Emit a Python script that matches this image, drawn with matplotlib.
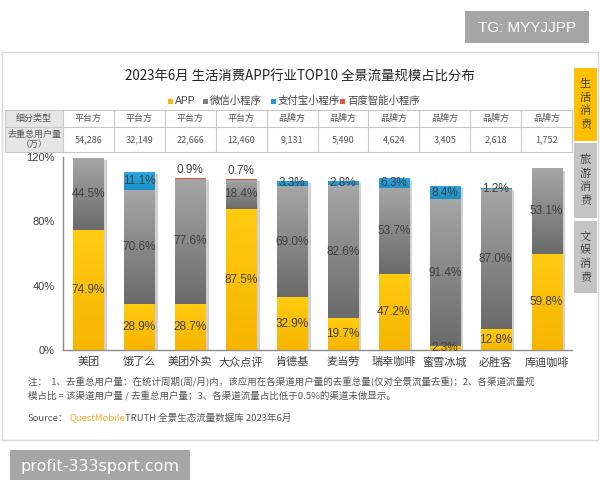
import numpy as np
import matplotlib
matplotlib.use("Agg")
import matplotlib.pyplot as plt
from matplotlib.colors import LinearSegmentedColormap
from matplotlib.patches import Rectangle
import matplotlib.patheffects as pe

plt.rcParams['font.family'] = ['Liberation Sans', 'Noto Sans CJK SC', 'DejaVu Sans']

# ---------------- data ----------------
categories = ['美团', '饿了么', '美团外卖', '大众点评', '肯德基', '麦当劳', '瑞幸咖啡', '蜜雪冰城', '必胜客', '库迪咖啡']
seg_types = ['平台方', '平台方', '平台方', '平台方', '品牌方', '品牌方', '品牌方', '品牌方', '品牌方', '品牌方']
users = ['54,286', '32,149', '22,666', '12,460', '9,131', '5,490', '4,624', '3,405', '2,618', '1,752']
app = [74.9, 28.9, 28.7, 87.5, 32.9, 19.7, 47.2, 2.3, 12.8, 59.8]
wechat = [44.5, 70.6, 77.6, 18.4, 69.0, 82.6, 53.7, 91.4, 87.0, 53.1]
alipay = [0, 11.1, 0, 0, 3.3, 2.8, 6.3, 8.4, 1.2, 0]
baidu = [0, 0, 0.9, 0.7, 0, 0, 0, 0, 0, 0]
series_names = ['APP', '微信小程序', '支付宝小程序', '百度智能小程序']
yticks = [0, 40, 80, 120]
ytick_labels = ['0%', '40%', '80%', '120%']

title = '2023年6月 生活消费APP行业TOP10 全景流量规模占比分布'
tabs = ['生活消费', '旅游消费', '文娱消费']

W, H = 600, 480
fig = plt.figure(figsize=(6, 4.8), dpi=100)
fig.patch.set_facecolor('white')

# background pixel-space axes
bg = fig.add_axes([0, 0, 1, 1], zorder=0)
bg.set_xlim(0, W)
bg.set_ylim(H, 0)
bg.axis('off')

# outer frame
bg.add_patch(Rectangle((2, 52), 596, 388, fill=False, ec='#d9d9d9', lw=1))

# TG box
bg.add_patch(Rectangle((465, 11), 124, 32, fc='#a6a6a6', ec='none'))
bg.text(527, 27.5, 'TG: MYYJJPP', color='white', fontsize=11, ha='center', va='center')

# bottom watermark box
bg.add_patch(Rectangle((10, 450), 180, 32, fc='#a6a6a6', ec='none'))
bg.text(100, 466, 'profit-333sport.com', color='white', fontsize=11.5, ha='center', va='center',
        family=['DejaVu Sans'])

# title
bg.text(300, 77, title, fontsize=9.6, color='#222222', ha='center', va='center',
        family=['Noto Sans CJK SC', 'DejaVu Sans'])

# legend
leg_colors = ['#F5B800', '#808080', '#1E9BD7', '#E05A3A']
leg_x = [168, 203, 271, 340]
for c, x, name in zip(leg_colors, leg_x, series_names):
    bg.add_patch(Rectangle((x, 98.5), 5, 5, fc=c, ec='none'))
    bg.text(x + 7, 101, name, fontsize=7.5, color='#444444', ha='left', va='center',
            family=['Liberation Sans', 'Noto Sans CJK SC'])

# table
x_left_axis = 63.0
x_right_axis = 572.0
colw = (x_right_axis - x_left_axis) / len(categories)
t_top, t_mid, t_bot = 109.5, 127, 152
bg.add_patch(Rectangle((5, t_top), x_left_axis - 5, t_bot - t_top, fc='#e6e6e6', ec='none'))
lc = '#c8c8c8'
for y in (t_top, t_mid, t_bot):
    bg.plot([5, x_right_axis], [y, y], color=lc, lw=0.8)
bg.plot([5, 5], [t_top, t_bot], color=lc, lw=0.8)
for i in range(len(categories) + 1):
    x = x_left_axis + i * colw
    bg.plot([x, x], [t_top, t_bot], color=lc, lw=0.8)
bg.text((5 + x_left_axis) / 2, (t_top + t_mid) / 2, '细分类型', fontsize=6.5, color='#555555',
        ha='center', va='center', family=['Noto Sans CJK SC'])
bg.text((5 + x_left_axis) / 2, (t_mid + t_bot) / 2, '去重总用户量\n（万）', fontsize=6.5, color='#555555',
        ha='center', va='center', linespacing=1.1, family=['Noto Sans CJK SC'])
for i, (s, u) in enumerate(zip(seg_types, users)):
    cx = x_left_axis + (i + 0.5) * colw
    bg.text(cx, (t_top + t_mid) / 2, s, fontsize=6.5, color='#555555', ha='center', va='center',
            family=['Noto Sans CJK SC'])
    bg.text(cx, (t_mid + t_bot) / 2, u, fontsize=6.5, color='#555555', ha='center', va='center',
            family=['Noto Sans CJK SC'])

# side tabs
tab_y = [(68, 141), (143, 218), (221, 293)]
tab_bg = ['#FFC000', '#c4c4c4', '#c4c4c4']
for (y0, y1), c, t in zip(tab_y, tab_bg, tabs):
    bg.add_patch(Rectangle((574, y0), 23, y1 - y0, fc=c, ec='none'))
    bg.text(585.5, (y0 + y1) / 2, '\n'.join(t), fontsize=8, color='#333333', ha='center', va='center',
            linespacing=1.15, family=['Noto Serif CJK SC', 'Noto Sans CJK SC'])

# notes
note1 = '注：  1、去重总用户量：在统计周期(周/月)内，该应用在各渠道用户量的去重总量(仅对全景流量去重)；2、各渠道流量规'
note2 = '模占比 = 该渠道用户量 / 去重总用户量；3、各渠道流量占比低于0.5%的渠道未做显示。'
nf = ['Noto Sans CJK SC', 'DejaVu Sans']
bg.text(28, 382, note1, fontsize=6.8, color='#555555', ha='left', va='center', family=nf)
bg.text(28, 396, note2, fontsize=6.8, color='#555555', ha='left', va='center', family=nf)
t1 = bg.text(28, 418, 'Source：', fontsize=6.8, color='#555555', ha='left', va='center', family=nf)
fig.canvas.draw()
r = fig.canvas.get_renderer()
bb = t1.get_window_extent(r)
x2 = bg.transData.inverted().transform((bb.x1, 0))[0] + 1
t2 = bg.text(x2, 418, 'QuestMobile', fontsize=6.8, color='#F5A623', ha='left', va='center', family=nf)
bb2 = t2.get_window_extent(r)
x3 = bg.transData.inverted().transform((bb2.x1, 0))[0]
bg.text(x3, 418, 'TRUTH 全景生态流量数据库 2023年6月', fontsize=6.8, color='#555555', ha='left', va='center',
        family=nf)

# ---------------- chart axes ----------------
y0_px, ytop_px = 350, 157
ax = fig.add_axes([x_left_axis / W, (H - y0_px) / H, (x_right_axis - x_left_axis) / W,
                   (y0_px - ytop_px) / H], zorder=1)
ax.patch.set_alpha(0)

x = np.arange(len(categories))
bw = 0.59
grads = [('#F7B400', '#FFCC10'), ('#6A6A6A', '#A6A6A6'), ('#1A90C8', '#2BA9E0'), ('#D9502F', '#E86A48')]
series = [app, wechat, alipay, baidu]
bottom = np.zeros(len(categories))
grad_img = np.linspace(0, 1, 256).reshape(-1, 1)
for vals, (c0, c1) in zip(series, grads):
    vals = np.array(vals, dtype=float)
    bars = ax.bar(x, vals, bw, bottom=bottom, color=c0, edgecolor='none', zorder=2)
    cmap = LinearSegmentedColormap.from_list('g', [c0, c1])
    for p, v in zip(bars.patches, vals):
        if v <= 0:
            continue
        p.set_path_effects([pe.SimplePatchShadow(offset=(2.5, -1.5), shadow_rgbFace='#000000', alpha=0.18),
                            pe.Normal()])
        im = ax.imshow(grad_img, cmap=cmap, origin='lower', aspect='auto', zorder=3,
                       extent=[p.get_x(), p.get_x() + p.get_width(), p.get_y(), p.get_y() + p.get_height()],
                       interpolation='bilinear')
        im.set_clip_path(p)
    for xi, b, v in zip(x, bottom, vals):
        if v <= 0:
            continue
        if v < 1:
            ax.text(xi, b + v + 1.2, f'{v:.1f}%', ha='center', va='bottom', fontsize=8.5,
                    color='#404040', zorder=5)
        else:
            ax.text(xi, b + v / 2, f'{v:.1f}%', ha='center', va='center', fontsize=8.5,
                    color='#404040', zorder=5)
    bottom = bottom + vals

ax.set_xlim(-0.5, len(categories) - 0.5)
ax.set_ylim(0, 120)
ax.set_yticks(yticks)
ax.set_yticklabels(ytick_labels)
ax.set_xticks(x)
ax.set_xticklabels(categories, family=['Noto Sans CJK SC'])
ax.tick_params(axis='both', length=0, labelsize=8, colors='#404040')
ax.tick_params(axis='x', pad=5)
ax.tick_params(axis='y', pad=6)
for s in ['top', 'right']:
    ax.spines[s].set_visible(False)
for s in ['left', 'bottom']:
    ax.spines[s].set_color('#8c8c8c')
    ax.spines[s].set_linewidth(1)

fig.savefig('out.png', dpi=100, facecolor='white')
